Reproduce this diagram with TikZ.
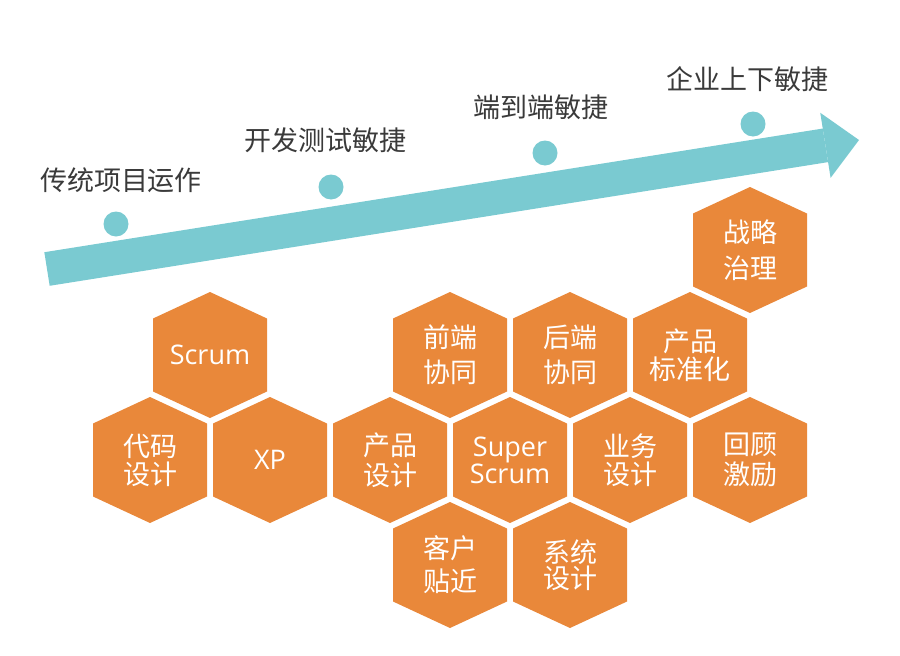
\documentclass[tikz,border=0pt]{standalone}
\usepackage{fontspec}
\setmainfont{Noto Sans CJK SC}
\newfontfamily\enfont{Open Sans}
\usepackage{xcolor}
\definecolor{flow}{RGB}{122, 202, 209}
\definecolor{cell}{RGB}{233, 136, 58}
\definecolor{ink}{RGB}{58, 58, 58}
\usetikzlibrary{arrows.meta,positioning}

\begin{document}
\begin{tikzpicture}[x=1pt, y=-1pt,
    stage/.style={font=\fontsize{27pt}{31pt}\selectfont, text=ink, inner sep=0pt},
    cellbox/.style={fill=cell},
    celltext/.style={font=\fontsize{27pt}{29pt}\selectfont, text=white, align=center, inner sep=0pt}]
    \useasboundingbox (0,0) rectangle (900,656);

    % Arrow
    \coordinate (Start) at (47,269);
    \coordinate (Tip) at (859,140);
    \draw[flow, line width=34pt, -{Triangle[width=66pt, length=34pt, line width=0pt]}] (Start) -- (Tip);

    % Stages on the arrow
    \coordinate (D1) at (116,224);
    \coordinate (D2) at (331,187);
    \coordinate (D3) at (545,153);
    \coordinate (D4) at (753,124);
    \foreach \d in {D1,D2,D3,D4}
        \fill[flow] (\d) circle (12.5);

    \node[stage] (stage1) at (121,180) {传统项目运作};
    \node[stage] (stage2) at (325,140) {开发测试敏捷};
    \node[stage] (stage3) at (541,107) {端到端敏捷};
    \node[stage] (stage4) at (747,79) {企业上下敏捷};

    % Hexagons (centre x / centre y / name / text)
    \foreach \x/\y/\name/\txt in {
        750/250/zhanlue/{战略\\[7pt]治理},
        210/355/scrum/{\enfont Scrum},
        450/355/qianduan/{前端\\[6pt]协同},
        570/355/houduan/{后端\\[6pt]协同},
        690/355/biaozhun/{产品\\[-1pt]标准化},
        150/460/daima/{代码\\[-1pt]设计},
        270/460/xp/{\enfont XP},
        390/460/chanpin/{产品\\[1pt]设计},
        510/460/super/{\enfont Super\\[-2pt]\enfont Scrum},
        630/460/yewu/{业务\\[-1pt]设计},
        750/460/huigu/{回顾\\[1pt]激励},
        450/565/kehu/{客户\\[4pt]贴近},
        570/565/xitong/{系统\\[-3pt]设计}}
    {
        \fill[cellbox] (\x,\y) ++(0,-63) -- ++(57,26.5) -- ++(0,73) -- ++(-57,26.5) -- ++(-57,-26.5) -- ++(0,-73) -- cycle;
        \node[celltext] (\name) at (\x,\y) {\txt};
    }
\end{tikzpicture}
\end{document}
